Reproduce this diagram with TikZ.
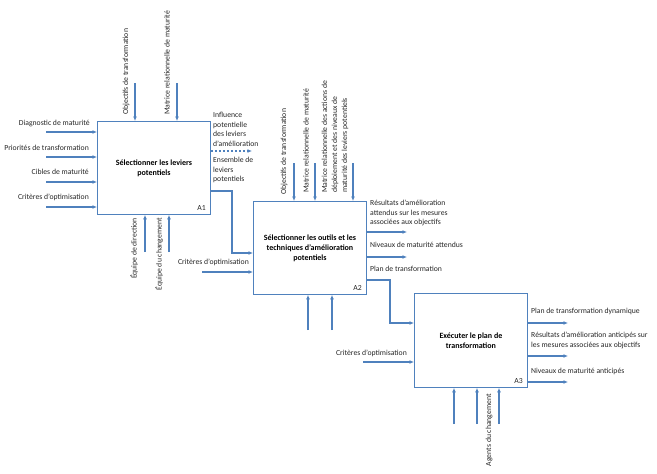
\documentclass[tikz,border=0pt]{standalone}
\usepackage{fontspec}
\setmainfont{Carlito}
\usetikzlibrary{arrows.meta}
\definecolor{ib}{RGB}{79,129,189}
\begin{document}
\begin{tikzpicture}[x=1pt,y=-1pt,
  font=\fontsize{7.7}{9.5}\selectfont,
  box/.style={draw=ib, line width=0.9pt, fill=white, inner sep=2pt,
    minimum width=113pt, minimum height=93pt, anchor=north west,
    align=center, font=\fontsize{8}{10}\selectfont\bfseries},
  arr/.style={draw=ib, line width=1.1pt, -{Latex[length=4.5pt,width=4pt]}},
  lbl/.style={inner sep=0pt, text=black!85},
  vlbl/.style={inner sep=0pt, text=black!85, rotate=90},
  tag/.style={inner sep=0pt, anchor=south east, text=black!85, font=\fontsize{7.7}{9.5}\selectfont}]
\useasboundingbox (0,0) rectangle (657,474);

% boxes
\node[box] (A1) at (97,121) {Sélectionner les leviers\\potentiels};
\node[box] (A2) at (253,201) {Sélectionner les outils et les\\techniques d'amélioration\\potentiels};
\node[box, minimum height=94pt] (A3) at (414,293) {Exécuter le plan de\\transformation};
\node[tag] (t1) at ([shift={(-5,-4)}]A1.south east) {A1};
\node[tag] (t2) at ([shift={(-5,-4)}]A2.south east) {A2};
\node[tag] (t3) at ([shift={(-5,-4)}]A3.south east) {A3};

% ---- A1 inputs
\coordinate (i11) at (46,132);
\coordinate (i12) at (46,157);
\coordinate (i13) at (46,182);
\coordinate (i14) at (46,207);
\draw[arr] (i11) -- (i11 -| A1.west);
\draw[arr] (i12) -- (i12 -| A1.west);
\draw[arr] (i13) -- (i13 -| A1.west);
\draw[arr] (i14) -- (i14 -| A1.west);
\node[lbl, anchor=east] (l11) at (90,123) {Diagnostic de maturité};
\node[lbl, anchor=east] (l12) at (89,148) {Priorités de transformation};
\node[lbl, anchor=east] (l13) at (89,172) {Cibles de maturité};
\node[lbl, anchor=east] (l14) at (89,197) {Critères d'optimisation};

% ---- A1 controls
\coordinate (c11) at (135,83);
\coordinate (c12) at (177,83);
\draw[arr] (c11) -- (c11 |- A1.north);
\draw[arr] (c12) -- (c12 |- A1.north);
\node[vlbl, anchor=west] (lc11) at (126,115) {Objectifs de transformation};
\node[vlbl, anchor=west] (lc12) at (167,115) {Matrice relationnelle de maturité};

% ---- A1 mechanisms
\coordinate (m11) at (145,252);
\coordinate (m12) at (169,252);
\draw[arr] (m11) -- (m11 |- A1.south);
\draw[arr] (m12) -- (m12 |- A1.south);
\node[vlbl, anchor=east] (lm11) at (134,218) {Équipe de direction};
\node[vlbl, anchor=east] (lm12) at (159,218) {Équipe du changement};

% ---- A1 outputs
\coordinate (o11) at (252,151);
\draw[arr, dash pattern=on 2.5pt off 1.5pt] (A1.east |- o11) -- (o11);
\node[lbl, anchor=north west, align=left] (lo11) at (213,112) {Influence\\potentielle\\des leviers\\d'amélioration};
\node[lbl, anchor=north west, align=left] (lo12) at (213,157) {Ensemble de\\leviers\\potentiels};
\coordinate (b11) at (232,191);
\coordinate (b12) at (232,253);
\draw[arr] (A1.east |- b11) -- (b11) -- (b12) -- (A2.west |- b12);

% ---- A2 inputs
\coordinate (i22) at (202,272);
\draw[arr] (i22) -- (i22 -| A2.west);
\node[lbl, anchor=east] (l22) at (249,262) {Critères d'optimisation};

% ---- A2 controls
\coordinate (c21) at (294,163);
\coordinate (c22) at (315,163);
\coordinate (c23) at (353,163);
\draw[arr] (c21) -- (c21 |- A2.north);
\draw[arr] (c22) -- (c22 |- A2.north);
\draw[arr] (c23) -- (c23 |- A2.north);
\node[vlbl, anchor=west] (lc21) at (284,195) {Objectifs de transformation};
\node[vlbl, anchor=west] (lc22) at (306,193) {Matrice relationnelle de maturité};
\node[vlbl, anchor=west, align=left, font=\fontsize{7.7}{10}\selectfont] (lc23) at (335,193) {Matrice relationnelle des actions de\\déploiement et des niveaux de\\maturité des leviers potentiels};

% ---- A2 mechanisms
\coordinate (m21) at (308,330);
\coordinate (m22) at (332,330);
\draw[arr] (m21) -- (m21 |- A2.south);
\draw[arr] (m22) -- (m22 |- A2.south);

% ---- A2 outputs
\coordinate (o21) at (407,232);
\coordinate (o22) at (407,257);
\draw[arr] (A2.east |- o21) -- (o21);
\draw[arr] (A2.east |- o22) -- (o22);
\node[lbl, anchor=north west, align=left] (lo21) at (370,200) {Résultats d'amélioration\\attendus sur les mesures\\associées aux objectifs};
\node[lbl, anchor=west] (lo22) at (370,245) {Niveaux de maturité attendus};
\node[lbl, anchor=west] (lo23) at (370,269) {Plan de transformation};
\coordinate (b21) at (390,280);
\coordinate (b22) at (390,323);
\draw[arr] (A2.east |- b21) -- (b21) -- (b22) -- (A3.west |- b22);

% ---- A3 inputs
\coordinate (i32) at (363,362);
\draw[arr] (i32) -- (i32 -| A3.west);
\node[lbl, anchor=east] (l32) at (407,353) {Critères d'optimisation};

% ---- A3 mechanisms
\coordinate (m31) at (454,424);
\coordinate (m32) at (477,424);
\coordinate (m33) at (499,424);
\draw[arr] (m31) -- (m31 |- A3.south);
\draw[arr] (m32) -- (m32 |- A3.south);
\draw[arr] (m33) -- (m33 |- A3.south);
\node[vlbl, anchor=east] (lm33) at (489,394) {Agents du changement};

% ---- A3 outputs
\coordinate (o31) at (568,323);
\coordinate (o32) at (568,356);
\coordinate (o33) at (568,382);
\draw[arr] (A3.east |- o31) -- (o31);
\draw[arr] (A3.east |- o32) -- (o32);
\draw[arr] (A3.east |- o33) -- (o33);
\node[lbl, anchor=west] (lo31) at (531,311) {Plan de transformation dynamique};
\node[lbl, anchor=north west, align=left] (lo32) at (531,332) {Résultats d'amélioration anticipés sur\\les mesures associées aux objectifs};
\node[lbl, anchor=west] (lo33) at (531,371) {Niveaux de maturité anticipés};
\end{tikzpicture}
\end{document}
